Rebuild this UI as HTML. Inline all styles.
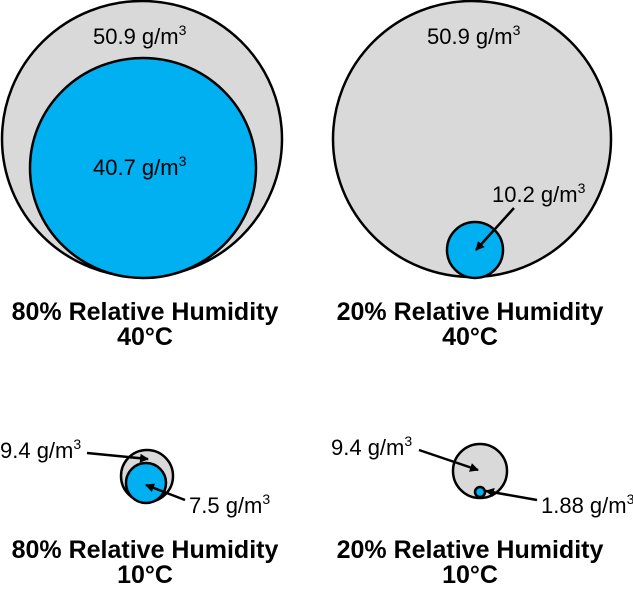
<!DOCTYPE html>
<html><head><meta charset="utf-8"><style>
body{margin:0;background:#fff;}
svg text{font-family:"Liberation Sans",sans-serif;}
</style></head><body>
<svg width="633" height="585" viewBox="0 0 633 585">
<defs><marker id="ah" markerWidth="9" markerHeight="9" refX="8" refY="4.5" orient="auto" markerUnits="userSpaceOnUse"><path d="M0,0 L9,4.5 L0,9 Z" fill="#000"/></marker></defs>
<g stroke="#000" stroke-width="2.5">
<ellipse cx="142" cy="139" rx="140" ry="138" fill="#d9d9d9"/>
<ellipse cx="143" cy="168" rx="113" ry="110" fill="#00b0f0"/>
<ellipse cx="472" cy="139" rx="139" ry="138" fill="#d9d9d9"/>
<circle cx="475" cy="250" r="28" fill="#00b0f0"/>
<circle cx="147" cy="476" r="26" fill="#d9d9d9"/>
<circle cx="146" cy="483" r="20" fill="#00b0f0"/>
<circle cx="480" cy="471" r="27" fill="#d9d9d9"/>
<circle cx="480" cy="492" r="5" fill="#00b0f0"/>
</g>
<g stroke="#000" stroke-width="2.5" marker-end="url(#ah)">
<line x1="514" y1="208" x2="476" y2="250"/>
<line x1="87" y1="453" x2="148" y2="459"/>
<line x1="185" y1="500" x2="146" y2="485"/>
<line x1="419" y1="450" x2="478" y2="470"/>
<line x1="537" y1="500" x2="486" y2="491"/>
</g>
<g font-size="22" fill="#000">
<text x="93" y="44">50.9 g/m<tspan font-size="14" dy="-9">3</tspan></text>
<text x="93" y="175">40.7 g/m<tspan font-size="14" dy="-9">3</tspan></text>
<text x="427" y="44">50.9 g/m<tspan font-size="14" dy="-9">3</tspan></text>
<text x="492" y="202">10.2 g/m<tspan font-size="14" dy="-9">3</tspan></text>
<text x="0" y="458">9.4 g/m<tspan font-size="14" dy="-9">3</tspan></text>
<text x="189" y="513">7.5 g/m<tspan font-size="14" dy="-9">3</tspan></text>
<text x="331" y="455">9.4 g/m<tspan font-size="14" dy="-9">3</tspan></text>
<text x="541" y="513">1.88 g/m<tspan font-size="14" dy="-9">3</tspan></text>
</g>
<g font-size="25" font-weight="bold" text-anchor="middle" fill="#000">
<text x="145" y="320">80% Relative Humidity</text>
<text x="145" y="345">40°C</text>
<text x="470" y="320">20% Relative Humidity</text>
<text x="470" y="345">40°C</text>
<text x="145" y="558">80% Relative Humidity</text>
<text x="145" y="583">10°C</text>
<text x="470" y="558">20% Relative Humidity</text>
<text x="470" y="583">10°C</text>
</g>
</svg>
</body></html>
